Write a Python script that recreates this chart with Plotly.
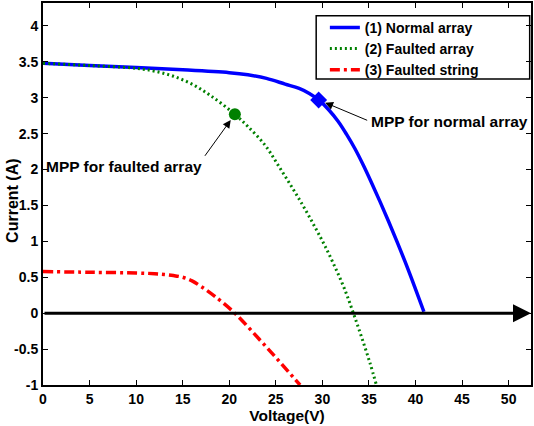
import plotly.graph_objects as go

# I-V characteristics of the PV array
v_normal = [0, 5, 10, 15, 20, 22, 24, 26, 27.5, 28.6, 29.6, 30.7, 31.7, 32.6, 33.5, 34.4, 35.3, 36.2, 37.1, 38.0, 38.9, 39.9, 40.9]
i_normal = [3.48, 3.45, 3.42, 3.39, 3.35, 3.32, 3.27, 3.19, 3.13, 3.06, 2.97, 2.83, 2.67, 2.49, 2.29, 2.06, 1.81, 1.55, 1.28, 1.00, 0.71, 0.37, 0.02]

v_faulted_array = [0, 5, 10, 12, 14, 16, 18, 20.6, 22, 23.9, 25.3, 26.7, 28, 29.2, 30.3, 31.4, 32.4, 33.3, 34.2, 35.1, 35.8]
i_faulted_array = [3.48, 3.45, 3.41, 3.37, 3.30, 3.19, 3.03, 2.77, 2.60, 2.33, 2.05, 1.76, 1.48, 1.20, 0.93, 0.63, 0.33, 0.01, -0.33, -0.69, -1.0]

v_faulted_string = [0, 5, 10, 12, 13, 14, 15, 16, 17, 18.5, 20.6, 23.2, 25.3, 27.6]
i_faulted_string = [0.58, 0.57, 0.56, 0.55, 0.54, 0.525, 0.50, 0.45, 0.37, 0.23, 0.0, -0.36, -0.66, -1.0]

# Maximum power points
mpp_normal = (29.6, 2.97)
mpp_faulted = (20.6, 2.77)

x_ticks = [0, 5, 10, 15, 20, 25, 30, 35, 40, 45, 50]
y_ticks = [-1, -0.5, 0, 0.5, 1, 1.5, 2, 2.5, 3, 3.5, 4]
x_range = [0, 52.4]
y_range = [-1, 4.32]

FONT = "Liberation Sans, Arial, sans-serif"


def bold(size):
    return dict(size=size, color="black", family=FONT, weight="bold")


fig = go.Figure()

fig.add_trace(go.Scatter(
    x=v_normal, y=i_normal, mode="lines", name="(1) Normal array",
    line=dict(color="#0000ff", width=3.5, shape="spline", smoothing=1),
))
fig.add_trace(go.Scatter(
    x=v_faulted_array, y=i_faulted_array, mode="lines", name="(2) Faulted array",
    line=dict(color="#008000", width=3, dash="2px,3px", shape="spline", smoothing=1),
))
fig.add_trace(go.Scatter(
    x=v_faulted_string, y=i_faulted_string, mode="lines", name="(3) Faulted string",
    line=dict(color="#ff0000", width=3.5, dash="10px,4px,3px,4px", shape="spline", smoothing=1),
))

fig.add_trace(go.Scatter(
    x=[mpp_normal[0]], y=[mpp_normal[1]], mode="markers", showlegend=False,
    marker=dict(symbol="diamond", size=13, color="#0000ff"),
))
fig.add_trace(go.Scatter(
    x=[mpp_faulted[0]], y=[mpp_faulted[1]], mode="markers", showlegend=False,
    marker=dict(symbol="circle", size=12, color="#008000"),
))

# Legend frame: plain rectangle in paper coordinates
legend_box = dict(
    type="rect", xref="paper", yref="paper",
    x0=0.5598, x1=0.9973, y0=0.801, y1=0.9668,
    line=dict(color="black", width=1.5),
)

# Voltage axis at zero current, drawn as an arrow
zero_arrow = dict(
    x=x_range[1], y=0, ax=0, ay=0, xref="x", yref="y", axref="x", ayref="y",
    text="", showarrow=True, arrowhead=2, arrowsize=1.2, arrowwidth=3, arrowcolor="black",
)

# MPP callouts: arrow tails are given in pixels relative to each point
callouts = [
    dict(x=mpp_normal[0], y=mpp_normal[1], ax=50, ay=21, text="",
         showarrow=True, arrowhead=2, arrowsize=1.6, arrowwidth=1, arrowcolor="black", standoff=7),
    dict(x=mpp_normal[0], y=mpp_normal[1], text="MPP for normal array", showarrow=False,
         xanchor="left", yanchor="middle", xshift=50, yshift=-22, font=bold(15.5)),
    dict(x=mpp_faulted[0], y=mpp_faulted[1], ax=-31, ay=43, text="",
         showarrow=True, arrowhead=2, arrowsize=1.6, arrowwidth=1, arrowcolor="black", standoff=7),
    dict(x=mpp_faulted[0], y=mpp_faulted[1], text="MPP for faulted array", showarrow=False,
         xanchor="right", yanchor="middle", xshift=-31, yshift=-52, font=bold(15.5)),
]

# Y-axis title placed close to the tick labels
y_title = dict(
    x=0, y=0.482, xref="paper", yref="paper", xshift=-30,
    text="Current (A)", textangle=-90, showarrow=False,
    xanchor="center", yanchor="middle", font=bold(16),
)

axis_common = dict(
    showline=True, linecolor="black", linewidth=2, mirror="allticks",
    ticks="inside", ticklen=5, tickwidth=1, tickcolor="black",
    showgrid=False, zeroline=False, tickfont=bold(14),
)

fig.update_xaxes(
    range=x_range, tickvals=x_ticks, ticktext=[str(t) for t in x_ticks],
    title=dict(text="Voltage(V)", font=bold(15.5), standoff=3),
    **axis_common,
)
fig.update_yaxes(
    range=y_range, tickvals=y_ticks, ticktext=[f"{t:g}" for t in y_ticks],
    **axis_common,
)

fig.update_layout(
    width=534, height=426,
    margin=dict(l=43, r=1, t=3, b=41),
    paper_bgcolor="white", plot_bgcolor="white",
    font=dict(family=FONT, color="black", weight="bold"),
    shapes=[legend_box],
    annotations=[zero_arrow] + callouts + [y_title],
    legend=dict(
        x=0.5776, y=0.977, xanchor="left", yanchor="top",
        bgcolor="rgba(0,0,0,0)", borderwidth=0,
        font=bold(14), tracegroupgap=0,
    ),
)

fig.write_html("out.html")
